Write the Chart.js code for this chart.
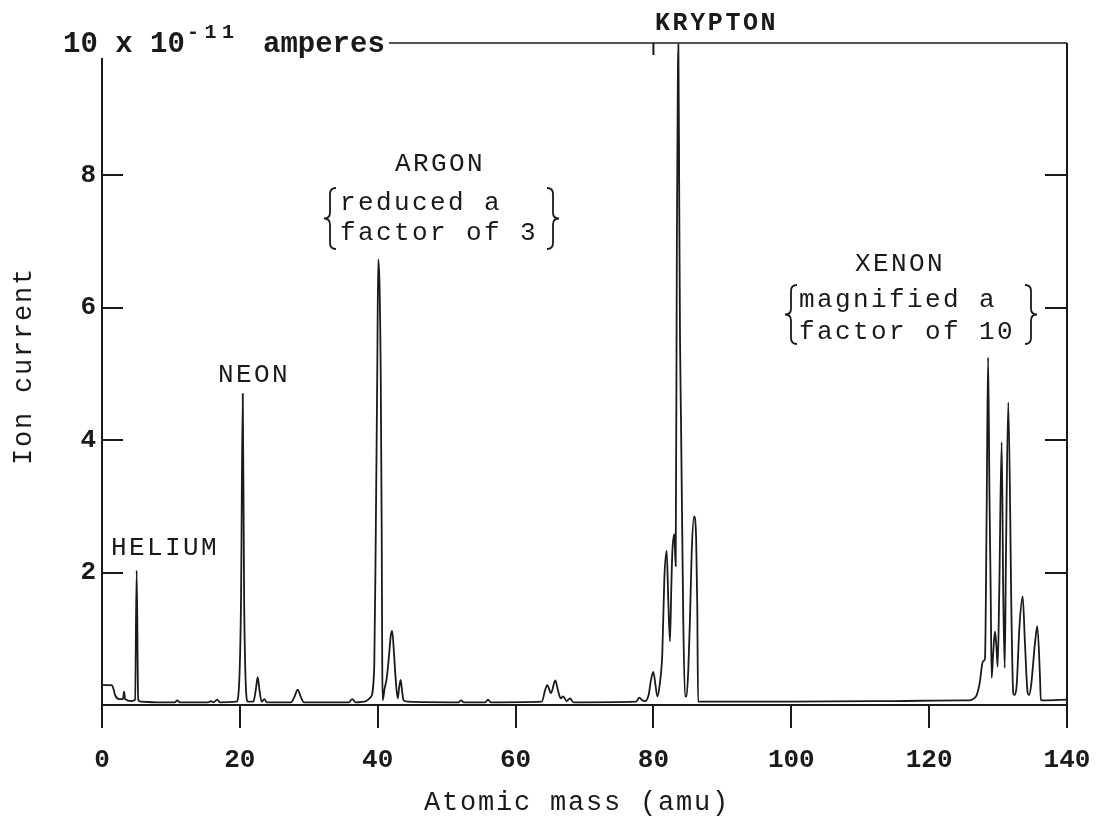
<!DOCTYPE html>
<html><head><meta charset="utf-8">
<script src="https://cdn.jsdelivr.net/npm/chart.js@4.4.1/dist/chart.umd.min.js"></script>
<style>html,body{margin:0;padding:0;background:#fff;}canvas{display:block;}</style>
</head><body>
<canvas id="c" width="1098" height="821" style="width:1098px;height:821px"></canvas>
<script>
// ---- data (atomic mass in amu, ion current in 1e-11 A) ----
const massAmu = [
  0, 1.4, 1.65, 1.9, 2.5, 3.05, 3.2, 3.35, 4.3, 4.8, 5.03, 5.25, 5.6,
  8.0, 10.6, 10.9, 11.3, 15.4, 15.8, 16.2, 16.7, 17.1, 19.5,
  19.9, 20.17, 20.42, 20.62, 20.85, 21.15, 21.95, 22.3, 22.59, 22.85, 23.15, 23.55, 23.9,
  27.4, 27.9, 28.39, 28.85, 29.3, 35.8, 36.3, 36.8, 38.0,
  38.99, 39.5, 39.72, 39.94, 40.08, 40.43, 40.58, 40.66, 40.72, 41.0, 41.3, 41.6, 41.9, 42.1, 42.35, 42.6, 42.9, 43.1, 43.33, 43.55, 43.75, 44.4,
  51.7, 52.1, 52.5, 55.6, 56.0, 56.4, 63.8,
  64.3, 64.6, 65.14, 65.76, 66.2, 66.55, 66.9, 67.4, 67.9, 68.4,
  77.5, 77.95, 78.4, 78.8, 79.3, 79.65, 79.98, 80.3, 80.57, 80.9, 81.29, 81.58, 81.92, 82.15, 82.4, 82.6, 82.74, 83.03, 83.23, 83.4, 83.55, 83.62, 83.75, 83.86, 84.0, 84.33, 84.58, 84.8, 85.06, 85.3, 85.55, 85.89, 86.2, 86.36, 86.48,
  87.5, 100, 115, 125.0,
  125.9, 126.5, 126.9, 127.2, 127.4, 127.6, 127.8, 128.1, 128.35, 128.55, 128.75, 128.93, 129.07, 129.3, 129.55, 129.75, 129.94, 130.17, 130.52, 130.75, 130.96, 131.14, 131.48, 131.97, 132.2, 132.4, 132.7, 133.1, 133.57, 133.9, 134.3, 134.5, 134.8, 135.35, 135.69, 136.08, 136.2, 137.0, 140
];
const ionCurrent = [
  0.30, 0.30, 0.25, 0.15, 0.09, 0.09, 0.20, 0.09, 0.06, 0.08, 2.03, 0.08, 0.05,
  0.04, 0.04, 0.07, 0.04, 0.04, 0.06, 0.04, 0.08, 0.04, 0.05,
  0.33, 1.6, 4.70, 1.6, 0.33, 0.05, 0.05, 0.22, 0.42, 0.22, 0.05, 0.09, 0.04,
  0.04, 0.12, 0.23, 0.12, 0.04, 0.04, 0.09, 0.04, 0.05,
  0.12, 0.58, 2.6, 5.1, 6.73, 5.1, 2.6, 0.58, 0.07, 0.25, 0.40, 0.70, 1.05, 1.12, 0.80, 0.40, 0.10, 0.25, 0.38, 0.20, 0.07, 0.05,
  0.04, 0.07, 0.04, 0.04, 0.08, 0.04, 0.05,
  0.23, 0.30, 0.18, 0.37, 0.20, 0.10, 0.13, 0.06, 0.10, 0.04,
  0.05, 0.11, 0.07, 0.06, 0.15, 0.38, 0.50, 0.30, 0.13, 0.30, 0.79, 1.90, 2.33, 1.60, 0.96, 1.80, 2.30, 2.58, 2.10, 7.00, 9.60, 9.98, 7.50, 5.50, 4.30, 1.28, 0.13, 0.13, 0.53, 1.29, 2.30, 2.85, 2.50, 1.50, 0.05,
  0.05, 0.05, 0.06, 0.07,
  0.07, 0.10, 0.15, 0.26, 0.38, 0.55, 0.66, 0.70, 3.00, 5.25, 3.20, 1.69, 0.41, 0.80, 1.11, 0.90, 0.58, 1.70, 3.97, 1.70, 0.56, 2.20, 4.57, 1.18, 0.18, 0.15, 0.30, 1.18, 1.64, 0.93, 0.18, 0.15, 0.30, 0.93, 1.19, 0.43, 0.07, 0.07, 0.08
];
const xTickValues = [0, 20, 40, 60, 80, 100, 120, 140];
const yTickValues = [2, 4, 6, 8];
const xAxisTitle = 'Atomic mass (amu)';
const yAxisTitle = 'Ion current';
const gasLabels = ['HELIUM', 'NEON', 'ARGON', 'KRYPTON', 'XENON'];
const argonNote = ['reduced a', 'factor of 3'];
const xenonNote = ['magnified a', 'factor of 10'];
const unitLabel = ['10 x 10', '-11', 'amperes'];

const FAM = "'Liberation Mono','Courier New',monospace";
const INK = '#1a1a1a';

const points = massAmu.map((m, i) => ({ x: m, y: ionCurrent[i] }));

function txt(ctx, s, x, y, font, spacing) {
  ctx.save();
  ctx.font = font;
  ctx.fillStyle = INK;
  ctx.textAlign = 'left';
  ctx.textBaseline = 'alphabetic';
  if ('letterSpacing' in ctx) ctx.letterSpacing = (spacing || 0) + 'px';
  ctx.fillText(s, x, y);
  ctx.restore();
}
function brace(ctx, cx, y0, y1, w, dir) {
  const ym = (y0 + y1) / 2;
  ctx.beginPath();
  ctx.moveTo(cx - dir * w, y0);
  ctx.quadraticCurveTo(cx, y0, cx, y0 + w);
  ctx.lineTo(cx, ym - w);
  ctx.quadraticCurveTo(cx, ym, cx + dir * w, ym);
  ctx.quadraticCurveTo(cx, ym, cx, ym + w);
  ctx.lineTo(cx, y1 - w);
  ctx.quadraticCurveTo(cx, y1, cx - dir * w, y1);
  ctx.stroke();
}

const decor = {
  id: 'decor',
  afterDraw(chart) {
    const { ctx, chartArea: a, scales } = chart;
    const xs = scales.x, ys = scales.y;
    ctx.save();
    ctx.strokeStyle = INK;
    ctx.lineWidth = 2;
    ctx.lineCap = 'butt';
    // frame
    ctx.beginPath();
    ctx.moveTo(a.left, 58); ctx.lineTo(a.left, a.bottom);
    ctx.moveTo(a.right, a.top); ctx.lineTo(a.right, a.bottom);
    ctx.stroke();
    ctx.lineWidth = 1.5;
    ctx.beginPath();
    ctx.moveTo(389, a.top); ctx.lineTo(a.right, a.top);
    ctx.stroke();
    // inward ticks
    ctx.lineWidth = 2;
    ctx.beginPath();
    yTickValues.forEach(v => {
      const py = Math.round(ys.getPixelForValue(v));
      ctx.moveTo(a.left, py); ctx.lineTo(a.left + 21, py);
      ctx.moveTo(a.right - 22, py); ctx.lineTo(a.right, py);
    });
    const p80 = xs.getPixelForValue(80);
    ctx.moveTo(p80, a.top); ctx.lineTo(p80, a.top + 12);
    ctx.stroke();

    // unit label
    txt(ctx, unitLabel[0], 63, 52, 'bold 29px ' + FAM, 0);
    txt(ctx, unitLabel[1], 187, 38, 'bold 20px ' + FAM, 5.5);
    txt(ctx, unitLabel[2], 263, 52, 'bold 29px ' + FAM, 0);

    const af = '26px ' + FAM, sp = 2.4;
    txt(ctx, gasLabels[0], 111, 555, af, sp);
    txt(ctx, gasLabels[1], 218, 382, af, sp);
    txt(ctx, gasLabels[2], 395, 171, af, sp);
    txt(ctx, argonNote[0], 340, 210, af, sp);
    txt(ctx, argonNote[1], 340, 240, af, sp);
    txt(ctx, gasLabels[3], 655, 30, 'bold 25px ' + FAM, 2.6);
    txt(ctx, gasLabels[4], 855, 271, af, sp);
    txt(ctx, xenonNote[0], 799, 307, af, sp);
    txt(ctx, xenonNote[1], 799, 339, af, sp);

    ctx.lineWidth = 1.8;
    brace(ctx, 330, 188, 249, 6, -1);
    brace(ctx, 553, 188, 249, 6, 1);
    brace(ctx, 791, 285, 344, 6, -1);
    brace(ctx, 1031, 285, 344, 6, 1);

    // axis titles
    txt(ctx, xAxisTitle, 424, 810, '27px ' + FAM, 1.8);
    ctx.save();
    ctx.translate(31, 465);
    ctx.rotate(-Math.PI / 2);
    txt(ctx, yAxisTitle, 0, 0, '27px ' + FAM, 1.8);
    ctx.restore();
    ctx.restore();
  }
};

new Chart(document.getElementById('c'), {
  type: 'line',
  data: {
    datasets: [{
      data: points,
      borderColor: INK,
      borderWidth: 1.8,
      pointRadius: 0,
      fill: false,
      cubicInterpolationMode: 'monotone'
    }]
  },
  options: {
    responsive: false,
    devicePixelRatio: 1,
    animation: false,
    events: [],
    layout: { padding: { left: 0, right: 31, top: 43, bottom: 0 } },
    plugins: { legend: { display: false }, tooltip: { enabled: false } },
    scales: {
      x: {
        type: 'linear', min: 0, max: 140,
        afterFit(s) { s.height = 116; s.paddingLeft = 0; s.paddingRight = 0; },
        afterBuildTicks(s) { s.ticks = xTickValues.map(v => ({ value: v })); },
        ticks: { font: { family: FAM, size: 26, weight: 'bold' }, color: INK, padding: 17, maxRotation: 0, autoSkip: false,
                 callback: v => String(v) },
        grid: { drawOnChartArea: false, drawTicks: true, tickLength: 23, color: INK, lineWidth: 2 },
        border: { display: true, color: INK, width: 2 }
      },
      y: {
        type: 'linear', min: 0, max: 10,
        afterFit(s) { s.width = 102; s.paddingTop = 0; s.paddingBottom = 0; },
        afterBuildTicks(s) { s.ticks = yTickValues.map(v => ({ value: v })); },
        ticks: { font: { family: FAM, size: 26, weight: 'bold' }, color: INK, padding: 6, callback: v => String(v) },
        grid: { display: false, drawTicks: false },
        border: { display: false }
      }
    }
  },
  plugins: [decor]
});
</script>
</body></html>
